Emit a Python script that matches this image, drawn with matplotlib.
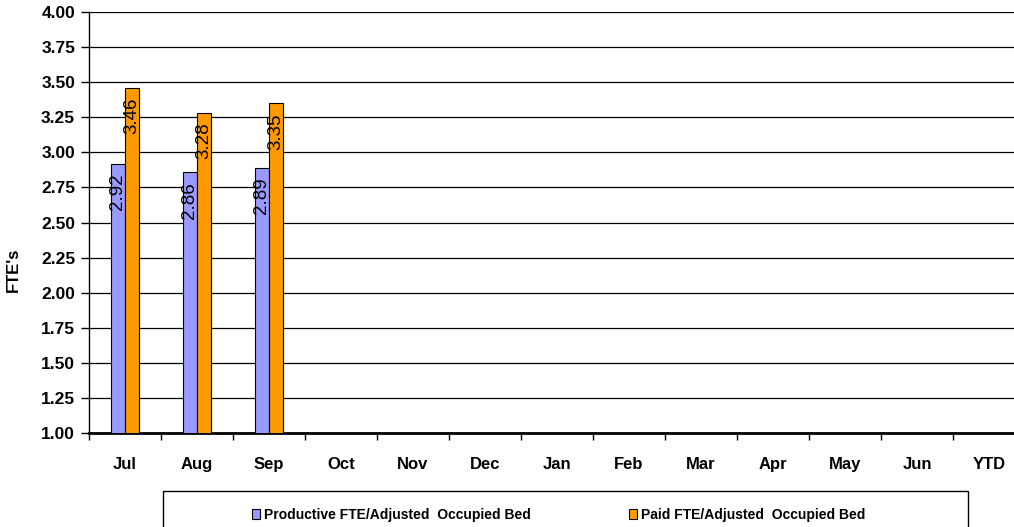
import matplotlib.pyplot as plt
from matplotlib.patches import Rectangle
import numpy as np

plt.rcParams['font.family'] = ['Liberation Sans', 'DejaVu Sans']

months = ['Jul', 'Aug', 'Sep', 'Oct', 'Nov', 'Dec', 'Jan', 'Feb', 'Mar',
          'Apr', 'May', 'Jun', 'YTD']
productive = [2.92, 2.86, 2.89]
paid = [3.46, 3.28, 3.35]
y_ticks = [1.00, 1.25, 1.50, 1.75, 2.00, 2.25, 2.50, 2.75, 3.00, 3.25,
           3.50, 3.75, 4.00]

W, H = 1014, 527
fig = plt.figure(figsize=(W / 100, H / 100), dpi=100)
# plot area runs a little past the right edge of the canvas
ax = fig.add_axes([89 / W, 1 - 433 / H, 936 / W, 421 / H])

bw = 0.2
x = np.arange(len(productive))
b1 = ax.bar(x - bw / 2, productive, bw, bottom=0, color='#9999ff',
            edgecolor='black', linewidth=0.8, zorder=3)
b2 = ax.bar(x + bw / 2, paid, bw, bottom=0, color='#ff9900',
            edgecolor='black', linewidth=0.8, zorder=3)

for bars, vals in ((b1, productive), (b2, paid)):
    for r, v in zip(bars, vals):
        ax.text(r.get_x() + r.get_width() / 2, v - 0.07, f'{v:.2f}',
                rotation=90, ha='center', va='top', fontsize=13.5,
                zorder=4)

ax.set_xlim(-0.5, len(months) - 0.5)
ax.set_ylim(1.0, 4.0)
ax.set_yticks(y_ticks)
ax.set_yticklabels([f'{t:.2f}' for t in y_ticks], fontsize=12.5,
                   fontweight='bold')
ax.set_xticks(np.arange(len(months)))
ax.set_xticklabels(months, fontsize=12, fontweight='bold')
ax.tick_params(axis='x', length=0, pad=17)
ax.set_xticks(np.arange(len(months) + 1) - 0.5, minor=True)
ax.tick_params(axis='x', which='minor', length=5, width=1, direction='out')
ax.tick_params(axis='y', length=6, width=1, direction='out', pad=4)

ax.yaxis.grid(True, color='black', linewidth=0.9, zorder=0)
ax.set_axisbelow(True)
for s in ('top', 'right'):
    ax.spines[s].set_visible(False)
ax.spines['left'].set_linewidth(1)
ax.spines['bottom'].set_linewidth(2)

# axis title sits below the middle of the axis
ax.text(-76 / 936, 163 / 421, "FTE's", transform=ax.transAxes,
        rotation=90, ha='center', va='center', fontsize=12,
        fontweight='bold')

# legend box, open at the bottom edge of the canvas
fig.add_artist(Rectangle((163 / W, -0.05), 805 / W, 0.05 + 36 / H,
                         transform=fig.transFigure, fill=False,
                         edgecolor='black', linewidth=1))
fig.legend([b1, b2], ['Productive FTE/Adjusted  Occupied Bed',
                      'Paid FTE/Adjusted  Occupied Bed'],
           loc='center left', bbox_to_anchor=(252 / W, 1 - 515 / H),
           ncol=2, frameon=False, borderpad=0, borderaxespad=0,
           prop={'size': 10, 'weight': 'bold'},
           handlelength=0.6, handleheight=0.8, handletextpad=0.3,
           columnspacing=7.0)

fig.savefig('out.png', dpi=100)
